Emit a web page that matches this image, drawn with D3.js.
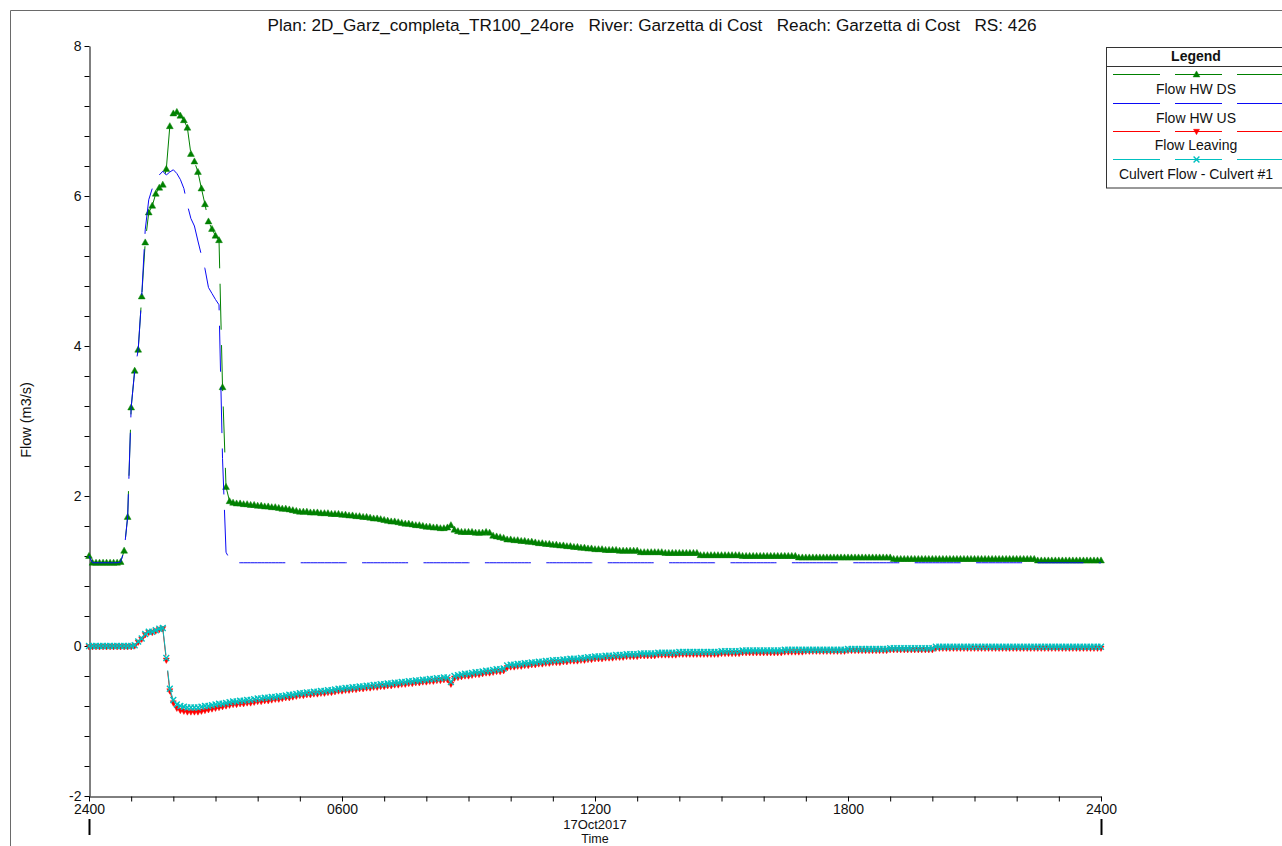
<!DOCTYPE html>
<html><head><meta charset="utf-8">
<script src="https://cdn.jsdelivr.net/npm/d3@7"></script>
<style>
body{margin:0;background:#fff;}
svg{display:block;font-family:"Liberation Sans",Arial,Helvetica,sans-serif;}
</style></head><body>
<svg id="chart" width="1282" height="846"></svg>
<script>
// ---------------- DATA ----------------
const titleText = "Plan: 2D_Garz_completa_TR100_24ore   River: Garzetta di Cost   Reach: Garzetta di Cost   RS: 426";
const yAxisTitle = "Flow (m3/s)";
const xAxisTitle = "Time";
const dateLabel = "17Oct2017";
const xMajorHours = [0, 6, 12, 18, 24];
const xTickLabels = ["2400", "0600", "1200", "1800", "2400"];
const yMajorValues = [-2, 0, 2, 4, 6, 8];
const yTickLabels = ["-2", "0", "2", "4", "6", "8"];
const seriesNames = ["Flow HW DS", "Flow HW US", "Flow Leaving", "Culvert Flow - Culvert #1"];
const stepMinutes = 5; // one value every 5 minutes, 2400 16Oct -> 2400 17Oct

const flowHWDS = [
 1.20,1.11,1.11,1.11,1.11,1.11,1.11,1.11,1.11,1.12,1.27,1.72,
 3.18,3.67,3.95,4.66,5.38,5.78,5.87,6.03,6.11,6.15,6.36,6.93,
 7.10,7.12,7.07,7.01,6.91,6.56,6.46,6.32,6.10,5.89,5.66,5.56,
 5.47,5.41,3.45,2.12,1.93,1.91,1.90,1.90,1.89,1.89,1.88,1.88,
 1.87,1.87,1.86,1.86,1.85,1.85,1.84,1.83,1.83,1.82,1.81,1.80,
 1.79,1.79,1.79,1.78,1.78,1.78,1.77,1.77,1.77,1.76,1.76,1.76,
 1.75,1.75,1.74,1.74,1.73,1.73,1.72,1.72,1.71,1.70,1.70,1.69,
 1.68,1.67,1.66,1.66,1.65,1.64,1.63,1.63,1.62,1.61,1.61,1.60,
 1.59,1.59,1.58,1.58,1.57,1.57,1.58,1.61,1.55,1.53,1.52,1.52,
 1.52,1.52,1.51,1.51,1.51,1.52,1.51,1.47,1.46,1.45,1.44,1.42,
 1.42,1.41,1.41,1.40,1.40,1.39,1.39,1.38,1.37,1.37,1.36,1.36,
 1.35,1.35,1.34,1.34,1.33,1.33,1.32,1.32,1.31,1.31,1.30,1.30,
 1.29,1.29,1.29,1.28,1.28,1.28,1.28,1.27,1.27,1.27,1.27,1.27,
 1.27,1.25,1.25,1.25,1.25,1.25,1.25,1.25,1.24,1.24,1.24,1.24,
 1.24,1.24,1.24,1.24,1.24,1.24,1.21,1.21,1.21,1.21,1.21,1.21,
 1.21,1.21,1.21,1.21,1.21,1.21,1.20,1.20,1.20,1.20,1.20,1.20,
 1.20,1.20,1.20,1.20,1.20,1.20,1.20,1.20,1.20,1.20,1.18,1.18,
 1.18,1.18,1.18,1.18,1.18,1.18,1.18,1.18,1.18,1.18,1.18,1.18,
 1.18,1.18,1.18,1.18,1.18,1.18,1.18,1.18,1.18,1.18,1.18,1.18,
 1.18,1.16,1.16,1.16,1.16,1.16,1.16,1.16,1.16,1.16,1.16,1.16,
 1.16,1.16,1.16,1.16,1.16,1.16,1.16,1.16,1.16,1.16,1.16,1.16,
 1.16,1.16,1.16,1.16,1.16,1.16,1.16,1.16,1.16,1.16,1.16,1.16,
 1.16,1.16,1.16,1.16,1.16,1.16,1.14,1.14,1.14,1.14,1.14,1.14,
 1.14,1.14,1.14,1.14,1.14,1.14,1.14,1.14,1.14,1.14,1.14,1.14,
 1.14
];

const flowHWUS = [
 1.20,1.11,1.11,1.11,1.11,1.11,1.11,1.11,1.11,1.12,1.27,1.72,
 3.18,3.67,3.95,4.66,5.55,5.95,6.10,6.20,6.28,6.33,6.28,6.32,
 6.35,6.30,6.22,6.10,5.88,5.70,5.60,5.40,5.21,5.03,4.78,4.70,
 4.62,4.55,2.50,1.25,1.16,1.11,1.11,1.11,1.11,1.11,1.11,1.11,
 1.11,1.11,1.11,1.11,1.11,1.11,1.11,1.11,1.11,1.11,1.11,1.11,
 1.11,1.11,1.11,1.11,1.11,1.11,1.11,1.11,1.11,1.11,1.11,1.11,
 1.11,1.11,1.11,1.11,1.11,1.11,1.11,1.11,1.11,1.11,1.11,1.11,
 1.11,1.11,1.11,1.11,1.11,1.11,1.11,1.11,1.11,1.11,1.11,1.11,
 1.11,1.11,1.11,1.11,1.11,1.11,1.11,1.11,1.11,1.11,1.11,1.11,
 1.11,1.11,1.11,1.11,1.11,1.11,1.11,1.11,1.11,1.11,1.11,1.11,
 1.11,1.11,1.11,1.11,1.11,1.11,1.11,1.11,1.11,1.11,1.11,1.11,
 1.11,1.11,1.11,1.11,1.11,1.11,1.11,1.11,1.11,1.11,1.11,1.11,
 1.11,1.11,1.11,1.11,1.11,1.11,1.11,1.11,1.11,1.11,1.11,1.11,
 1.11,1.11,1.11,1.11,1.11,1.11,1.11,1.11,1.11,1.11,1.11,1.11,
 1.11,1.11,1.11,1.11,1.11,1.11,1.11,1.11,1.11,1.11,1.11,1.11,
 1.11,1.11,1.11,1.11,1.11,1.11,1.11,1.11,1.11,1.11,1.11,1.11,
 1.11,1.11,1.11,1.11,1.11,1.11,1.11,1.11,1.11,1.11,1.11,1.11,
 1.11,1.11,1.11,1.11,1.11,1.11,1.11,1.11,1.11,1.11,1.11,1.11,
 1.11,1.11,1.11,1.11,1.11,1.11,1.11,1.11,1.11,1.11,1.11,1.11,
 1.11,1.11,1.11,1.11,1.11,1.11,1.11,1.11,1.11,1.11,1.11,1.11,
 1.11,1.11,1.11,1.11,1.11,1.11,1.11,1.11,1.11,1.11,1.11,1.11,
 1.11,1.11,1.11,1.11,1.11,1.11,1.11,1.11,1.11,1.11,1.11,1.11,
 1.11,1.11,1.11,1.11,1.11,1.11,1.11,1.11,1.11,1.11,1.11,1.11,
 1.11,1.11,1.11,1.11,1.11,1.11,1.11,1.11,1.11,1.11,1.11,1.11,
 1.11
];

const flowLeaving = [
 -0.01,-0.01,-0.01,-0.01,-0.01,-0.01,-0.01,-0.01,-0.01,-0.01,-0.01,-0.01,
 -0.01,0.00,0.05,0.09,0.15,0.18,0.18,0.20,0.22,0.23,-0.19,-0.60,
 -0.76,-0.83,-0.86,-0.87,-0.88,-0.88,-0.88,-0.88,-0.87,-0.86,-0.85,-0.84,
 -0.83,-0.82,-0.81,-0.80,-0.79,-0.78,-0.78,-0.77,-0.77,-0.76,-0.76,-0.75,
 -0.74,-0.74,-0.73,-0.73,-0.72,-0.71,-0.71,-0.70,-0.69,-0.69,-0.68,-0.67,
 -0.66,-0.66,-0.65,-0.65,-0.64,-0.64,-0.63,-0.63,-0.62,-0.62,-0.61,-0.60,
 -0.60,-0.59,-0.59,-0.58,-0.58,-0.57,-0.57,-0.56,-0.56,-0.55,-0.55,-0.54,
 -0.54,-0.53,-0.53,-0.52,-0.52,-0.51,-0.51,-0.50,-0.50,-0.49,-0.49,-0.48,
 -0.48,-0.47,-0.47,-0.46,-0.46,-0.45,-0.45,-0.51,-0.43,-0.42,-0.41,-0.40,
 -0.40,-0.39,-0.38,-0.38,-0.37,-0.36,-0.36,-0.35,-0.34,-0.34,-0.33,-0.29,
 -0.28,-0.28,-0.27,-0.27,-0.26,-0.26,-0.25,-0.25,-0.24,-0.24,-0.23,-0.23,
 -0.22,-0.22,-0.22,-0.21,-0.21,-0.20,-0.20,-0.20,-0.19,-0.19,-0.18,-0.18,
 -0.17,-0.17,-0.17,-0.16,-0.16,-0.16,-0.15,-0.15,-0.15,-0.14,-0.14,-0.14,
 -0.14,-0.13,-0.13,-0.13,-0.13,-0.13,-0.12,-0.12,-0.12,-0.12,-0.12,-0.12,
 -0.11,-0.11,-0.11,-0.11,-0.11,-0.11,-0.11,-0.11,-0.11,-0.11,-0.11,-0.11,
 -0.10,-0.10,-0.10,-0.10,-0.10,-0.10,-0.09,-0.09,-0.09,-0.09,-0.09,-0.09,
 -0.09,-0.09,-0.09,-0.09,-0.09,-0.09,-0.08,-0.08,-0.08,-0.08,-0.08,-0.08,
 -0.07,-0.07,-0.07,-0.07,-0.07,-0.07,-0.07,-0.07,-0.07,-0.07,-0.07,-0.07,
 -0.06,-0.06,-0.06,-0.06,-0.06,-0.06,-0.06,-0.06,-0.06,-0.06,-0.06,-0.06,
 -0.05,-0.05,-0.05,-0.05,-0.05,-0.05,-0.05,-0.05,-0.05,-0.05,-0.05,-0.05,
 -0.05,-0.03,-0.03,-0.03,-0.03,-0.03,-0.03,-0.03,-0.03,-0.03,-0.03,-0.03,
 -0.03,-0.03,-0.03,-0.03,-0.03,-0.03,-0.03,-0.03,-0.03,-0.03,-0.03,-0.03,
 -0.03,-0.03,-0.03,-0.03,-0.03,-0.03,-0.03,-0.03,-0.03,-0.03,-0.03,-0.03,
 -0.03,-0.03,-0.03,-0.03,-0.03,-0.03,-0.03,-0.03,-0.03,-0.03,-0.03,-0.03,
 -0.03
];

const culvertFlow = [
 0.00,0.00,0.00,0.00,0.00,0.00,0.00,0.00,0.00,0.00,0.00,0.00,
 0.00,0.01,0.06,0.10,0.16,0.19,0.19,0.21,0.23,0.24,-0.16,-0.57,
 -0.72,-0.78,-0.80,-0.81,-0.82,-0.82,-0.82,-0.82,-0.81,-0.80,-0.80,-0.79,
 -0.78,-0.77,-0.77,-0.76,-0.75,-0.74,-0.74,-0.73,-0.73,-0.72,-0.72,-0.71,
 -0.70,-0.70,-0.69,-0.69,-0.68,-0.68,-0.67,-0.67,-0.66,-0.65,-0.65,-0.64,
 -0.63,-0.63,-0.62,-0.62,-0.61,-0.61,-0.60,-0.60,-0.59,-0.59,-0.58,-0.57,
 -0.57,-0.56,-0.56,-0.55,-0.55,-0.54,-0.54,-0.53,-0.53,-0.52,-0.52,-0.51,
 -0.51,-0.50,-0.50,-0.49,-0.49,-0.48,-0.48,-0.47,-0.47,-0.46,-0.46,-0.45,
 -0.45,-0.44,-0.44,-0.43,-0.43,-0.42,-0.42,-0.48,-0.40,-0.39,-0.38,-0.37,
 -0.37,-0.36,-0.35,-0.35,-0.34,-0.33,-0.33,-0.32,-0.31,-0.31,-0.30,-0.26,
 -0.25,-0.25,-0.24,-0.24,-0.23,-0.23,-0.22,-0.22,-0.21,-0.21,-0.20,-0.20,
 -0.19,-0.19,-0.19,-0.18,-0.18,-0.17,-0.17,-0.17,-0.16,-0.16,-0.15,-0.15,
 -0.14,-0.14,-0.14,-0.13,-0.13,-0.13,-0.12,-0.12,-0.12,-0.11,-0.11,-0.11,
 -0.11,-0.10,-0.10,-0.10,-0.10,-0.10,-0.09,-0.09,-0.09,-0.09,-0.09,-0.09,
 -0.08,-0.08,-0.08,-0.08,-0.08,-0.08,-0.08,-0.08,-0.08,-0.08,-0.08,-0.08,
 -0.07,-0.07,-0.07,-0.07,-0.07,-0.07,-0.06,-0.06,-0.06,-0.06,-0.06,-0.06,
 -0.06,-0.06,-0.06,-0.06,-0.06,-0.06,-0.05,-0.05,-0.05,-0.05,-0.05,-0.05,
 -0.05,-0.05,-0.05,-0.05,-0.05,-0.05,-0.05,-0.05,-0.05,-0.05,-0.05,-0.05,
 -0.04,-0.04,-0.04,-0.04,-0.04,-0.04,-0.04,-0.04,-0.04,-0.04,-0.04,-0.04,
 -0.03,-0.03,-0.03,-0.03,-0.03,-0.03,-0.03,-0.03,-0.03,-0.03,-0.03,-0.03,
 -0.03,-0.01,-0.01,-0.01,-0.01,-0.01,-0.01,-0.01,-0.01,-0.01,-0.01,-0.01,
 -0.01,-0.01,-0.01,-0.01,-0.01,-0.01,-0.01,-0.01,-0.01,-0.01,-0.01,-0.01,
 -0.01,-0.01,-0.01,-0.01,-0.01,-0.01,-0.01,-0.01,-0.01,-0.01,-0.01,-0.01,
 -0.01,-0.01,-0.01,-0.01,-0.01,-0.01,-0.01,-0.01,-0.01,-0.01,-0.01,-0.01,
 -0.01
];

// ---------------- CHART ----------------
const svg = d3.select("#chart");
const W = 1282, H = 846;
const plot = {left: 89, right: 1101, top: 46, bottom: 796};
const timesH = flowHWDS.map((_, i) => i * stepMinutes / 60);

const x = d3.scaleLinear().domain([0, 24]).range([plot.left, plot.right]);
const y = d3.scaleLinear().domain([-2, 8]).range([plot.bottom, plot.top]);

// outer frame
svg.append("path").attr("d", `M10.5,${H} V10.5 H${W}`)
  .attr("fill", "none").attr("stroke", "#6a6a6a").attr("stroke-width", 1);

// title
svg.append("text").attr("x", 652).attr("y", 31).attr("text-anchor", "middle")
  .style("white-space", "pre").attr("font-size", 17.2).attr("fill", "#111").text(titleText);

// y axis
const yTicks = d3.range(0, 26).map(i => Math.round((-2 + i * 0.4) * 10) / 10);
const yAxis = d3.axisLeft(y).tickValues(yTicks).tickSize(5).tickSizeOuter(0).tickPadding(3)
  .tickFormat(d => { const k = yMajorValues.indexOf(d); return k >= 0 ? yTickLabels[k] : ""; });
const gy = svg.append("g").attr("transform", `translate(${plot.left + 0.5},0)`).call(yAxis);
gy.selectAll("text").attr("font-size", 14).attr("font-family", "Liberation Sans, Arial, sans-serif").attr("fill", "#111");
gy.selectAll("line, path").attr("stroke", "#000");

// x axis
const xTicks = d3.range(0, 25);
const xAxis = d3.axisBottom(x).tickValues(xTicks).tickSize(5).tickSizeOuter(0).tickPadding(3)
  .tickFormat(d => { const k = xMajorHours.indexOf(d); return k >= 0 ? xTickLabels[k] : ""; });
const gx = svg.append("g").attr("transform", `translate(0,${plot.bottom + 0.5})`).call(xAxis);
gx.selectAll("text").attr("font-size", 14).attr("font-family", "Liberation Sans, Arial, sans-serif").attr("fill", "#111");
gx.selectAll("line, path").attr("stroke", "#000");

// day separators
[0, 24].forEach(h => {
  svg.append("line").attr("x1", x(h) + 0.5).attr("x2", x(h) + 0.5).attr("y1", 819).attr("y2", 835)
    .attr("stroke", "#000").attr("stroke-width", 2);
});
svg.append("text").attr("x", x(12)).attr("y", 829).attr("text-anchor", "middle").attr("font-size", 13).attr("fill", "#111").text(dateLabel);
svg.append("text").attr("x", x(12)).attr("y", 843.2).attr("text-anchor", "middle").attr("font-size", 12.5).attr("fill", "#111").text(xAxisTitle);

// y title
svg.append("text").attr("transform", `translate(31,420) rotate(-90)`).attr("text-anchor", "middle")
  .attr("font-size", 14.5).attr("fill", "#111").text(yAxisTitle);

// series
const triUp = "M0,-3.6L3.4,2.4L-3.4,2.4Z";
const triDown = "M0,3.2L3,-2.2L-3,-2.2Z";
const cross = "M-2.9,-2.9L2.9,2.9M-2.9,2.9L2.9,-2.9";
const dash = "46,15.4";
const series = [
  {name: seriesNames[0], values: flowHWDS, color: "#008000", marker: triUp, fill: true},
  {name: seriesNames[1], values: flowHWUS, color: "#0a0af5", marker: null},
  {name: seriesNames[2], values: flowLeaving, color: "#ff0000", marker: triDown, fill: true},
  {name: seriesNames[3], values: culvertFlow, color: "#00c0c0", marker: cross, fill: false}
];
const line = d3.line().x((d, i) => x(timesH[i])).y(d => y(d));

series.forEach((s, si) => {
  const g = svg.append("g");
  const p = g.append("path").attr("d", line(s.values)).attr("fill", "none")
    .attr("stroke", s.color).attr("stroke-width", 1).attr("stroke-dasharray", dash);
  if (si === 1) {
    // align the dash phase of the flat tail with the reference
    const tmp = svg.append("path").attr("d", line(s.values.slice(0, 42)));
    const L = tmp.node().getTotalLength();
    tmp.remove();
    const Lstart = L + (239.3 - x(timesH[41]));
    const P = 61.4;
    p.attr("stroke-dashoffset", (P - (Lstart % P)) % P);
  }
  if (s.marker) {
    g.selectAll("path.m").data(s.values).join("path").attr("class", "m")
      .attr("transform", (d, i) => `translate(${x(timesH[i])},${y(d)})`)
      .attr("d", s.marker)
      .attr("fill", s.fill ? s.color : "none")
      .attr("stroke", s.color).attr("stroke-width", s.fill ? 0.5 : 1.4);
  }
});

// legend
const lg = svg.append("g").attr("class", "legend");
lg.append("rect").attr("x", 1106.5).attr("y", 47.5).attr("width", 200).attr("height", 140.5)
  .attr("fill", "#fff").attr("stroke", "#333");
lg.append("line").attr("x1", 1106.5).attr("x2", 1290).attr("y1", 66.5).attr("y2", 66.5).attr("stroke", "#333");
lg.append("text").attr("x", 1196).attr("y", 61).attr("text-anchor", "middle").attr("font-size", 14)
  .attr("font-weight", "bold").attr("fill", "#111").text("Legend");
const legY = [74.5, 103.5, 131.5, 159.5];
const legTextY = [94, 123, 150, 179];
series.forEach((s, i) => {
  lg.append("line").attr("x1", 1113).attr("x2", 1290).attr("y1", legY[i]).attr("y2", legY[i])
    .style("stroke", s.color).attr("stroke-width", 1).attr("stroke-dasharray", "47,15");
  if (s.marker) {
    lg.append("path").attr("transform", `translate(1196.5,${legY[i]})`).attr("d", s.marker)
      .attr("fill", s.fill ? s.color : "none").attr("stroke", s.color).attr("stroke-width", s.fill ? 0.5 : 1.4);
  }
  lg.append("text").attr("x", 1196).attr("y", legTextY[i]).attr("text-anchor", "middle")
    .attr("font-size", 14).attr("fill", "#111").text(s.name);
});
</script>
</body></html>
